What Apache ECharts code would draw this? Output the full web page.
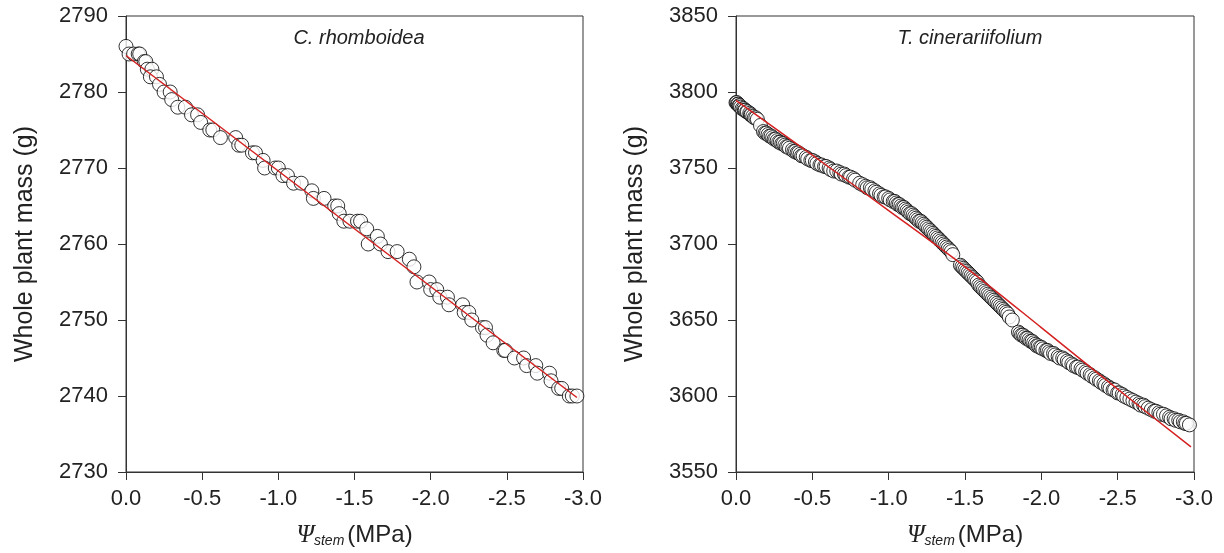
<!DOCTYPE html>
<html>
<head>
<meta charset="utf-8">
<script src="https://cdn.jsdelivr.net/npm/echarts@6/dist/echarts.min.js"></script>
<style>html,body{margin:0;padding:0;background:#fff;}#c{width:1224px;height:553px;}</style>
</head>
<body>
<div id="c"></div>
<script>
// ---- C. rhomboidea ----
const psiC = [0.00,-0.02,-0.05,-0.08,-0.09,-0.12,-0.13,-0.14,-0.17,-0.16,-0.20,-0.22,-0.25,-0.29,-0.30,-0.34,-0.39,-0.43,-0.47,-0.49,-0.55,-0.57,-0.62,-0.72,-0.74,-0.76,-0.83,-0.85,-0.90,-0.91,-0.98,-1.00,-1.03,-1.06,-1.10,-1.15,-1.22,-1.23,-1.30,-1.37,-1.39,-1.40,-1.43,-1.47,-1.52,-1.54,-1.58,-1.59,-1.65,-1.67,-1.72,-1.78,-1.86,-1.89,-1.91,-1.99,-2.00,-2.04,-2.06,-2.11,-2.12,-2.21,-2.22,-2.25,-2.27,-2.34,-2.36,-2.37,-2.41,-2.48,-2.49,-2.55,-2.61,-2.63,-2.69,-2.70,-2.78,-2.79,-2.84,-2.86,-2.91,-2.93,-2.96];
const massC = [2786,2785,2785,2785,2785,2784,2784,2783,2783,2782,2782,2781,2780,2780,2779,2778,2778,2777,2777,2776,2775,2775,2774,2774,2773,2773,2772,2772,2771,2770,2770,2770,2769,2769,2768,2768,2767,2766,2766,2765,2765,2764,2763,2763,2763,2763,2762,2760,2761,2760,2759,2759,2758,2757,2755,2755,2754,2754,2753,2753,2752,2752,2751,2751,2750,2749,2749,2748,2747,2746,2746,2745,2745,2744,2744,2743,2743,2742,2741,2741,2740,2740,2740];
const fitPsiC = [0, -2.96];
const fitMassC = [2784.8, 2739.8];

// ---- T. cinerariifolium ----
const psiT = [0.00,-0.005,-0.01,-0.015,-0.02,-0.025,-0.03,-0.04,-0.05,-0.055,-0.06,-0.07,-0.075,-0.09,-0.095,-0.10,-0.11,-0.12,-0.13,-0.14,-0.16,-0.18,-0.19,-0.20,-0.21,-0.22,-0.23,-0.24,-0.25,-0.26,-0.27,-0.28,-0.29,-0.30,-0.31,-0.32,-0.33,-0.34,-0.35,-0.37,-0.38,-0.39,-0.40,-0.41,-0.42,-0.43,-0.44,-0.46,-0.47,-0.49,-0.50,-0.52,-0.53,-0.55,-0.56,-0.58,-0.59,-0.61,-0.62,-0.64,-0.66,-0.68,-0.69,-0.71,-0.72,-0.74,-0.75,-0.77,-0.78,-0.81,-0.83,-0.85,-0.86,-0.88,-0.89,-0.91,-0.92,-0.94,-0.95,-0.97,-0.98,-1.00,-1.01,-1.03,-1.04,-1.05,-1.06,-1.07,-1.08,-1.09,-1.10,-1.11,-1.12,-1.13,-1.14,-1.15,-1.16,-1.17,-1.18,-1.19,-1.20,-1.21,-1.22,-1.23,-1.24,-1.25,-1.26,-1.27,-1.28,-1.29,-1.30,-1.31,-1.32,-1.33,-1.34,-1.35,-1.36,-1.37,-1.38,-1.39,-1.40,-1.41,-1.42,-1.47,-1.48,-1.49,-1.50,-1.51,-1.52,-1.53,-1.54,-1.55,-1.56,-1.57,-1.58,-1.59,-1.60,-1.61,-1.62,-1.63,-1.64,-1.65,-1.66,-1.67,-1.68,-1.69,-1.70,-1.71,-1.72,-1.73,-1.74,-1.75,-1.76,-1.77,-1.78,-1.79,-1.81,-1.85,-1.86,-1.87,-1.88,-1.89,-1.90,-1.91,-1.92,-1.93,-1.94,-1.95,-1.96,-1.97,-1.98,-1.99,-2.00,-2.01,-2.03,-2.04,-2.05,-2.06,-2.08,-2.09,-2.11,-2.12,-2.14,-2.15,-2.17,-2.18,-2.20,-2.21,-2.23,-2.24,-2.26,-2.27,-2.29,-2.30,-2.32,-2.33,-2.35,-2.36,-2.38,-2.39,-2.41,-2.42,-2.44,-2.45,-2.47,-2.48,-2.50,-2.51,-2.53,-2.54,-2.56,-2.58,-2.60,-2.62,-2.64,-2.65,-2.67,-2.68,-2.70,-2.72,-2.74,-2.75,-2.77,-2.78,-2.80,-2.82,-2.84,-2.85,-2.87,-2.88,-2.90,-2.91,-2.93,-2.94,-2.95,-2.97];
const massT = [3793,3793,3792,3792,3791,3791,3790,3789,3789,3788,3788,3787,3787,3786,3785,3785,3784,3783,3783,3782,3778,3774,3773,3773,3772,3771,3771,3770,3769,3769,3768,3767,3767,3766,3766,3765,3764,3764,3763,3762,3761,3761,3760,3760,3759,3758,3758,3757,3756,3755,3755,3754,3753,3752,3752,3751,3751,3750,3749,3748,3748,3747,3746,3746,3745,3744,3744,3743,3742,3740,3739,3738,3737,3737,3736,3735,3734,3733,3732,3731,3731,3730,3729,3728,3728,3727,3726,3726,3725,3724,3724,3723,3722,3721,3720,3720,3719,3718,3717,3716,3715,3715,3714,3713,3712,3711,3710,3709,3708,3707,3706,3705,3704,3703,3702,3701,3700,3699,3698,3697,3696,3695,3693,3686,3685,3684,3683,3682,3681,3680,3679,3678,3677,3676,3675,3673,3672,3671,3670,3669,3668,3667,3666,3665,3664,3663,3662,3661,3660,3659,3658,3657,3656,3655,3654,3652,3650,3642,3641,3640,3640,3639,3638,3638,3637,3636,3636,3635,3634,3633,3633,3632,3632,3631,3630,3630,3629,3628,3628,3627,3626,3625,3625,3624,3623,3622,3621,3620,3619,3619,3618,3617,3616,3615,3614,3613,3612,3611,3610,3609,3608,3607,3606,3605,3604,3604,3602,3602,3601,3600,3599,3598,3597,3596,3595,3594,3594,3593,3592,3591,3590,3590,3589,3588,3588,3587,3586,3585,3585,3584,3584,3583,3583,3582,3582,3581];
const fitPsiT = [0, -0.5, -1.0, -1.5, -2.0, -2.5, -2.98];
const fitMassT = [3794.5, 3758.5, 3722, 3685, 3645, 3604.5, 3566.5];

const titles = ['C. rhomboidea', 'T. cinerariifolium'];
const yTitle = 'Whole plant mass (g)';

const zip = (a, b) => a.map((v, i) => [v, b[i]]);
const FONT = "'Liberation Sans', Arial, sans-serif";
const AX = '#333';

function xAxisCfg(gi) {
  return {
    type: 'value', gridIndex: gi, min: -3, max: 0, interval: 0.5, inverse: true,
    axisLine: { show: true, onZero: false, lineStyle: { color: AX, width: 1 } },
    axisTick: { show: true, inside: false, length: 8, lineStyle: { color: AX } },
    splitLine: { show: false },
    axisLabel: { color: '#222', fontSize: 22, fontFamily: FONT, margin: 16,
      formatter: v => (Math.abs(v) < 1e-9 ? '0.0' : v.toFixed(1)) },
    name: '{psi|Ψ}{sub|stem}{mpa|(MPa)}',
    nameLocation: 'middle', nameGap: 51,
    nameTextStyle: {
      rich: {
        psi: { fontFamily: "'Liberation Serif', 'DejaVu Serif', serif", fontStyle: 'italic', fontSize: 25, color: '#222' },
        sub: { fontFamily: FONT, fontStyle: 'italic', fontSize: 14, color: '#222', verticalAlign: 'bottom', padding: [8, 3, 0, 0] },
        mpa: { fontFamily: FONT, fontSize: 24, color: '#222' }
      }
    }
  };
}
function yAxisCfg(gi, min, max, interval) {
  return {
    type: 'value', gridIndex: gi, min: min, max: max, interval: interval,
    axisLine: { show: true, onZero: false, lineStyle: { color: AX, width: 1 } },
    axisTick: { show: true, inside: false, length: 8, lineStyle: { color: AX } },
    splitLine: { show: false },
    axisLabel: { color: '#222', fontSize: 22, fontFamily: FONT, margin: 18, formatter: v => String(v) },
    name: yTitle, nameLocation: 'middle', nameGap: 88, nameRotate: 90,
    nameTextStyle: { fontFamily: FONT, fontSize: 25, color: '#222' }
  };
}
const scatterStyle = { color: '#fff', borderColor: '#000', borderWidth: 1 };

const option = {
  animation: false,
  backgroundColor: '#fff',
  title: [
    { text: titles[0], left: 354, top: 23, textAlign: 'center',
      textStyle: { fontFamily: FONT, fontStyle: 'italic', fontWeight: 'normal', fontSize: 20, color: '#222' } },
    { text: titles[1], left: 965, top: 23, textAlign: 'center',
      textStyle: { fontFamily: FONT, fontStyle: 'italic', fontWeight: 'normal', fontSize: 20, color: '#222' } }
  ],
  grid: [
    { left: 126, right: 641, top: 16, bottom: 79, show: true, borderColor: AX, borderWidth: 1, backgroundColor: 'transparent' },
    { left: 736, right: 30, top: 16, bottom: 79, show: true, borderColor: AX, borderWidth: 1, backgroundColor: 'transparent' }
  ],
  xAxis: [xAxisCfg(0), xAxisCfg(1)],
  yAxis: [yAxisCfg(0, 2730, 2790, 10), yAxisCfg(1, 3550, 3850, 50)],
  series: [
    { type: 'scatter', xAxisIndex: 0, yAxisIndex: 0, data: zip(psiC, massC), symbol: 'circle', symbolSize: 14, itemStyle: scatterStyle, z: 2 },
    { type: 'line', xAxisIndex: 0, yAxisIndex: 0, data: zip(fitPsiC, fitMassC), symbol: 'none', lineStyle: { color: '#d42020', width: 1.5 }, z: 3 },
    { type: 'scatter', xAxisIndex: 1, yAxisIndex: 1, data: zip(psiT, massT), symbol: 'circle', symbolSize: 14, itemStyle: scatterStyle, z: 2 },
    { type: 'line', xAxisIndex: 1, yAxisIndex: 1, data: zip(fitPsiT, fitMassT), symbol: 'none', smooth: 0.3, lineStyle: { color: '#d42020', width: 1.5 }, z: 3 }
  ]
};
const chart = echarts.init(document.getElementById('c'), null, { renderer: 'canvas' });
chart.setOption(option);
</script>
</body>
</html>
